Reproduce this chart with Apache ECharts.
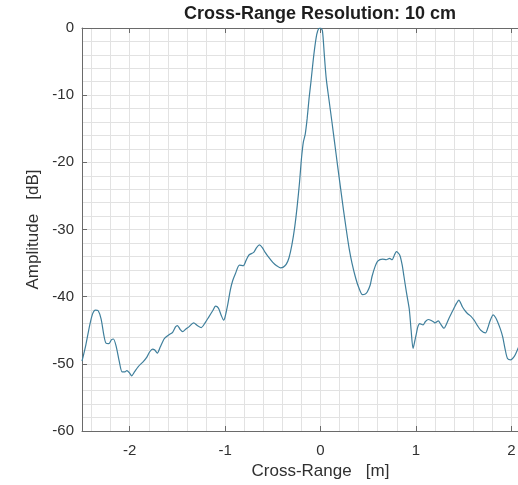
<!DOCTYPE html>
<html>
<head>
<meta charset="utf-8">
<script src="https://cdn.jsdelivr.net/npm/echarts@6/dist/echarts.min.js"></script>
<style>
  html, body { margin: 0; padding: 0; background: #ffffff; }
  #chart { width: 518px; height: 485px; }
</style>
</head>
<body>
<div id="chart"></div>
<script>
// Cross-range position of each sample [m]
const crossRange = [
  -2.50, -2.46, -2.42, -2.39, -2.36, -2.33, -2.30, -2.27, -2.25, -2.22,
  -2.19, -2.17, -2.14, -2.11, -2.08, -2.05, -2.03, -2.00, -1.98, -1.95,
  -1.91, -1.86, -1.82, -1.79, -1.76, -1.74, -1.71, -1.68, -1.64, -1.62,
  -1.58, -1.55, -1.52, -1.50, -1.47, -1.445, -1.41, -1.38, -1.33, -1.29,
  -1.25, -1.21, -1.17, -1.13, -1.10, -1.07, -1.04, -1.015, -1.00, -0.97,
  -0.945, -0.92, -0.89, -0.85, -0.81, -0.78, -0.75, -0.70, -0.67, -0.64,
  -0.61, -0.58, -0.54, -0.50, -0.46, -0.42, -0.39, -0.36, -0.33, -0.30,
  -0.27, -0.245, -0.22, -0.20, -0.18, -0.16, -0.14, -0.12, -0.10, -0.07,
  -0.04, -0.02, 0.00, 0.02, 0.04, 0.06, 0.09, 0.12, 0.15, 0.18,
  0.21, 0.24, 0.27, 0.30, 0.33, 0.37, 0.40, 0.44, 0.47, 0.49,
  0.52, 0.54, 0.57, 0.60, 0.65, 0.69, 0.725, 0.75, 0.775, 0.795,
  0.83, 0.855, 0.875, 0.90, 0.93, 0.95, 0.97, 0.99, 1.005, 1.02,
  1.04, 1.075, 1.10, 1.13, 1.155, 1.19, 1.20, 1.235, 1.26, 1.295,
  1.32, 1.347, 1.375, 1.40, 1.425, 1.45, 1.487, 1.51, 1.54, 1.575,
  1.61, 1.645, 1.68, 1.73, 1.755, 1.775, 1.81, 1.835, 1.855, 1.885,
  1.91, 1.935, 1.96, 1.995, 2.02, 2.04, 2.08, 2.12
];

// Normalised amplitude of each sample [dB]
const amplitudeDb = [
  -49.6, -47.2, -44.3, -42.6, -42.0, -42.1, -43.3, -45.8, -46.9, -47.0,
  -46.4, -46.3, -47.5, -49.6, -51.2, -51.2, -51.0, -51.4, -51.8, -51.2,
  -50.4, -49.7, -49.0, -48.2, -47.8, -47.9, -48.4, -47.5, -46.3, -46.0,
  -45.6, -45.3, -44.5, -44.3, -44.9, -45.2, -44.8, -44.5, -43.9, -44.3,
  -44.6, -43.9, -43.0, -42.1, -41.4, -41.7, -42.8, -43.5, -43.0, -41.0,
  -39.0, -37.6, -36.5, -35.3, -35.4, -34.6, -33.8, -33.4, -32.7, -32.3,
  -32.7, -33.4, -34.2, -34.9, -35.4, -35.7, -35.6, -35.2, -34.2, -32.3,
  -29.6, -26.6, -23.0, -19.5, -17.0, -15.8, -13.5, -10.5, -8.0, -4.0,
  -1.0, -0.1, 0.0, -0.4, -4.0, -7.5, -10.8, -14.0, -17.3, -20.6,
  -23.8, -27.0, -30.0, -32.8, -35.0, -37.3, -38.6, -39.7, -39.6, -39.3,
  -38.3, -37.0, -35.6, -34.7, -34.4, -34.5, -34.3, -34.5, -33.8, -33.3,
  -33.8, -35.2, -37.0, -39.3, -41.8, -45.0, -47.7, -46.5, -45.5, -44.5,
  -44.0, -44.2, -43.7, -43.4, -43.5, -43.8, -43.9, -43.6, -44.1, -44.7,
  -44.1, -43.2, -42.4, -41.7, -41.0, -40.5, -41.5, -42.0, -42.5, -42.9,
  -43.5, -44.3, -45.0, -45.4, -44.6, -43.7, -42.7, -43.1, -43.7, -44.8,
  -46.0, -47.8, -49.2, -49.4, -49.1, -48.7, -47.4, -46.3
];

// Labelled ticks on the cross-range axis
const xTickValues = [-2, -1, 0, 1, 2];
// Vertical grid lines, every 0.2 m
const xGridValues = [
  -2.4, -2.2, -2.0, -1.8, -1.6, -1.4, -1.2, -1.0, -0.8, -0.6, -0.4, -0.2,
  0, 0.2, 0.4, 0.6, 0.8, 1.0, 1.2, 1.4, 1.6, 1.8, 2.0, 2.2, 2.4
];

const FONT = '"Liberation Sans", Arial, Helvetica, sans-serif';
const AXIS_COLOR = '#6a6a6a';
const TEXT_COLOR = '#303030';
const GRID_COLOR = '#e2e2e2';

const chart = echarts.init(document.getElementById('chart'), null, { renderer: 'canvas' });

chart.setOption({
  animation: false,
  backgroundColor: '#ffffff',
  title: {
    text: 'Cross-Range Resolution: 10 cm',
    left: 320,
    top: 5,
    textAlign: 'center',
    padding: 0,
    textStyle: { fontFamily: FONT, fontSize: 18, fontWeight: 'bold', color: '#1e1e1e' }
  },
  grid: {
    left: 82,
    right: -41,
    top: 28,
    bottom: 54,
    containLabel: false,
    outerBoundsMode: 'none'
  },
  xAxis: [
    {
      type: 'value',
      min: -2.5,
      max: 2.5,
      position: 'bottom',
      name: 'Cross-Range   [m]',
      nameLocation: 'middle',
      nameGap: 26,
      nameTextStyle: { fontFamily: FONT, fontSize: 17, color: TEXT_COLOR },
      axisLine: { show: true, onZero: false, lineStyle: { color: AXIS_COLOR, width: 1 } },
      axisTick: { show: true, inside: true, length: 5, customValues: xTickValues, lineStyle: { color: AXIS_COLOR } },
      axisLabel: { customValues: xTickValues, margin: 12, fontFamily: FONT, fontSize: 15, color: TEXT_COLOR },
      splitLine: { show: false }
    },
    {
      type: 'value',
      min: -2.5,
      max: 2.5,
      position: 'top',
      axisLine: { show: true, onZero: false, lineStyle: { color: AXIS_COLOR, width: 1 } },
      axisTick: { show: false, customValues: xGridValues },
      axisLabel: { show: false },
      splitLine: { show: true, lineStyle: { color: GRID_COLOR, width: 1 } }
    },
    {
      type: 'value',
      min: -2.5,
      max: 2.5,
      position: 'top',
      axisLine: { show: false, onZero: false },
      axisTick: { show: true, inside: true, length: 5, customValues: xTickValues, lineStyle: { color: AXIS_COLOR } },
      axisLabel: { show: false },
      splitLine: { show: false }
    }
  ],
  yAxis: {
    type: 'value',
    min: -60,
    max: 0,
    interval: 10,
    position: 'left',
    name: 'Amplitude   [dB]',
    nameLocation: 'middle',
    nameGap: 35,
    nameTextStyle: { fontFamily: FONT, fontSize: 17, color: TEXT_COLOR },
    axisLine: { show: true, onZero: false, lineStyle: { color: AXIS_COLOR, width: 1 } },
    axisTick: { show: true, inside: true, length: 5, lineStyle: { color: AXIS_COLOR } },
    axisLabel: { margin: 8, fontFamily: FONT, fontSize: 15, color: TEXT_COLOR },
    splitLine: { show: true, lineStyle: { color: GRID_COLOR, width: 1 } },
    minorTick: { show: false, splitNumber: 5 },
    minorSplitLine: { show: true, lineStyle: { color: GRID_COLOR, width: 1 } }
  },
  series: [
    {
      type: 'line',
      xAxisIndex: 0,
      data: crossRange.map((x, i) => [x, amplitudeDb[i]]),
      showSymbol: false,
      symbol: 'none',
      smooth: 0.25,
      lineStyle: { color: '#3f7f9c', width: 1.2 },
      z: 5
    }
  ]
});
</script>
</body>
</html>
